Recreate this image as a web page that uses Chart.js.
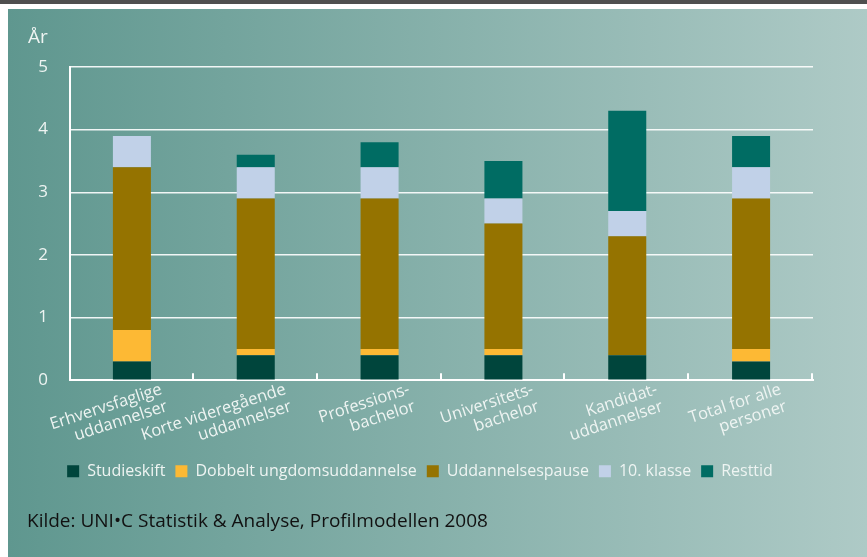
<!DOCTYPE html>
<html>
<head>
<meta charset="utf-8">
<script src="https://cdn.jsdelivr.net/npm/chart.js@4.4.1/dist/chart.umd.min.js"></script>
<style>
  html, body { margin: 0; padding: 0; background: #fff; }
  #frame { position: relative; width: 867px; height: 557px; overflow: hidden; background: #fff; }
  #topbar { position: absolute; left: 0; top: 0; width: 867px; height: 4px; background: #4f4f4f; }
  #panel { position: absolute; left: 8px; top: 9px; width: 859px; height: 548px;
           background: linear-gradient(to right, #5f978f, #aecac6); }
  #wrap { position: absolute; left: 0; top: 0; width: 867px; height: 557px; }
</style>
</head>
<body>
<div id="frame">
  <div id="topbar"></div>
  <div id="panel"></div>
  <div id="wrap"><canvas id="barChart"></canvas></div>
</div>
<script>
// data (years)
var categories = [
  ["Erhvervsfaglige", "uddannelser"],
  ["Korte videregående", "uddannelser"],
  ["Professions-", "bachelor"],
  ["Universitets-", "bachelor"],
  ["Kandidat-", "uddannelser"],
  ["Total for alle", "personer"]
];
var studieskift = [0.3, 0.4, 0.4, 0.4, 0.4, 0.3];
var dobbelt = [0.5, 0.1, 0.1, 0.1, 0.0, 0.2];
var pause = [2.6, 2.4, 2.4, 2.0, 1.9, 2.4];
var klasse10 = [0.5, 0.5, 0.5, 0.4, 0.4, 0.5];
var resttid = [0.0, 0.2, 0.4, 0.6, 1.6, 0.5];
var yTicks = [0, 1, 2, 3, 4, 5];

var textColor = '#eef4f2';
var fontFamily = '"Open Sans", "Noto Sans", sans-serif';

Chart.defaults.font.family = fontFamily;
Chart.defaults.color = textColor;

// rotated category labels, inner ticks and the unit label
var extras = {
  id: 'extras',
  afterDraw: function(chart) {
    var ctx = chart.ctx;
    var x = chart.scales.x;
    var area = chart.chartArea;
    ctx.save();
    ctx.fillStyle = textColor;
    ctx.font = '16.5px ' + fontFamily;
    ctx.textAlign = 'right';
    ctx.textBaseline = 'top';
    categories.forEach(function(lines, i) {
      ctx.save();
      ctx.translate(x.getPixelForValue(i) + 27, area.bottom + 1);
      ctx.rotate(-18 * Math.PI / 180);
      lines.forEach(function(t, j) { ctx.fillText(t, 0, j * 18); });
      ctx.restore();
    });

    var step = (area.right - area.left) / categories.length;
    ctx.strokeStyle = '#ffffff';
    ctx.lineWidth = 2;
    for (var k = 1; k <= categories.length; k++) {
      var px = Math.round(area.left + k * step) - 1;
      ctx.beginPath();
      ctx.moveTo(px, area.bottom);
      ctx.lineTo(px, area.bottom - 7);
      ctx.stroke();
    }

    ctx.font = '19px ' + fontFamily;
    ctx.textAlign = 'left';
    ctx.textBaseline = 'alphabetic';
    ctx.fillText('År', 28, 43);
    ctx.restore();
  }
};

var ctx = document.getElementById("barChart").getContext("2d");
var myChart = new Chart(ctx, {
  type: 'bar',
  data: {
    labels: categories,
    datasets: [
      { label: 'Studieskift', data: studieskift, backgroundColor: '#00453c' },
      { label: 'Dobbelt ungdomsuddannelse', data: dobbelt, backgroundColor: '#fdb934' },
      { label: 'Uddannelsespause', data: pause, backgroundColor: '#957300' },
      { label: '10. klasse', data: klasse10, backgroundColor: '#c1d1e8' },
      { label: 'Resttid', data: resttid, backgroundColor: '#006c63' }
    ]
  },
  options: {
    responsive: true,
    maintainAspectRatio: false,
    animation: false,
    layout: {
      padding: { left: 27, right: 54, top: 67, bottom: 10 }
    },
    datasets: {
      bar: { barPercentage: 0.307, categoryPercentage: 1, borderWidth: 0 }
    },
    plugins: {
      tooltip: { enabled: false },
      legend: {
        position: 'bottom',
        labels: {
          boxWidth: 12,
          boxHeight: 12,
          padding: 10,
          color: textColor,
          font: { size: 16 }
        }
      },
      title: {
        display: true,
        position: 'bottom',
        align: 'start',
        text: 'Kilde: UNI•C Statistik & Analyse, Profilmodellen 2008',
        color: '#111111',
        font: { size: 19, weight: 'normal' },
        padding: { top: 21, bottom: 14 }
      }
    },
    scales: {
      x: {
        stacked: true,
        grid: { display: false },
        border: { display: true, color: '#ffffff', width: 2 },
        ticks: { display: false },
        afterFit: function(s) { s.height = 73; }
      },
      y: {
        stacked: true,
        min: 0,
        max: 5,
        afterBuildTicks: function(s) { s.ticks = yTicks.map(function(v) { return { value: v }; }); },
        afterFit: function(s) { s.width = 43; },
        grid: { color: 'rgba(255,255,255,0.9)', lineWidth: 1.5, drawTicks: false },
        border: { display: true, color: '#ffffff', width: 2 },
        ticks: { padding: 22, color: textColor, font: { size: 17 } }
      }
    }
  },
  plugins: [extras]
});
</script>
</body>
</html>
